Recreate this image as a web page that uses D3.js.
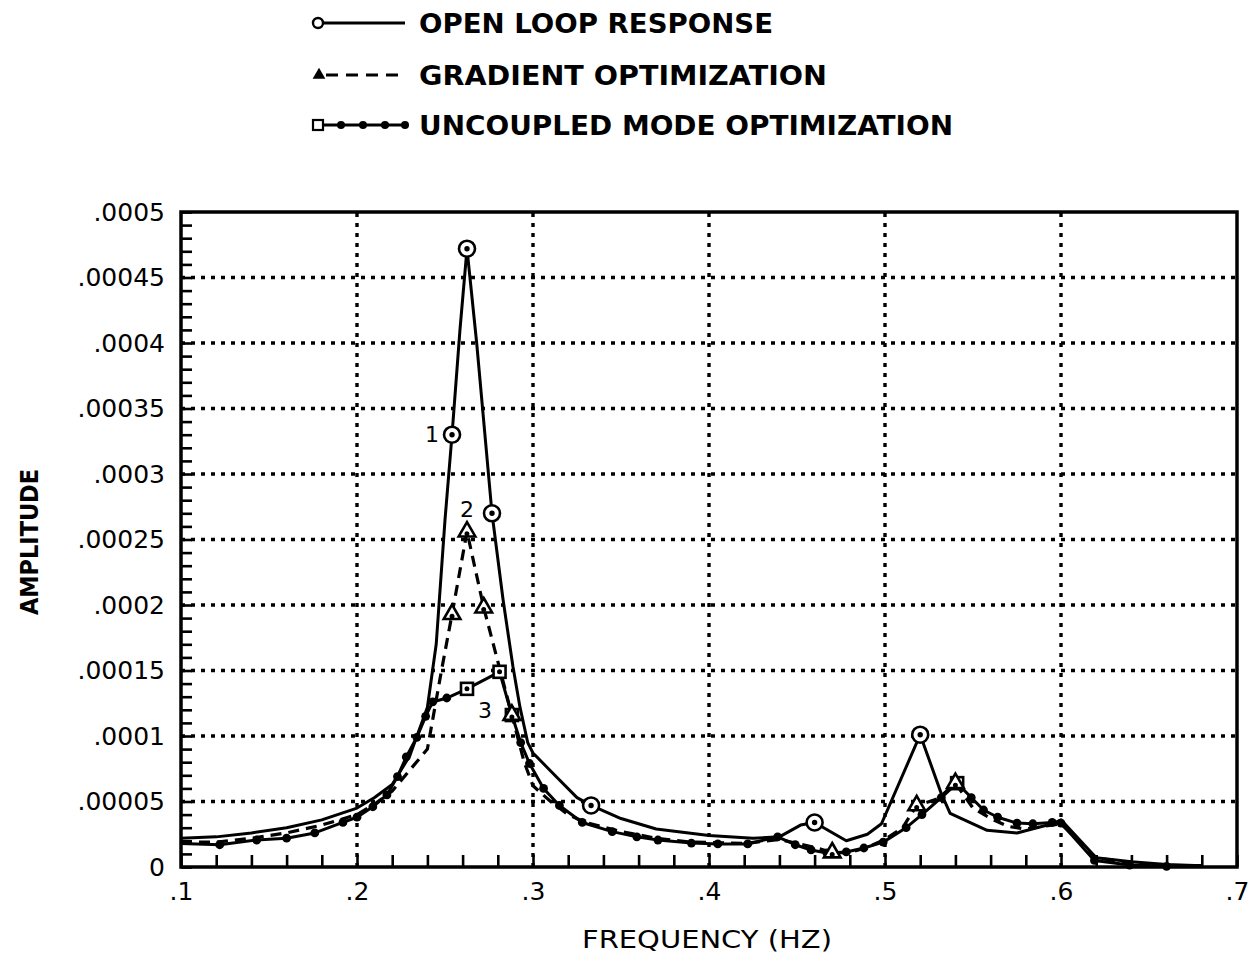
<!DOCTYPE html>
<html><head><meta charset="utf-8">
<script src="https://cdn.jsdelivr.net/npm/d3@7"></script>
<style>body{margin:0;background:#fff}svg{display:block}</style>
</head><body>
<svg id="chart" width="1260" height="953"></svg>
<script>
// Frequency response, amplitudes stored in units of 1e-5
const AMP_UNIT = 1e-5;

const freqOpen = [0.10,0.12,0.14,0.16,0.18,0.20,0.21,0.22,0.23,0.24,0.245,0.25,0.254,0.2585,0.2625,0.268,0.2767,0.283,0.2886,0.2926,0.297,0.30,0.311,0.325,0.333,0.35,0.37,0.40,0.425,0.44,0.452,0.46,0.478,0.49,0.498,0.52,0.532,0.537,0.558,0.575,0.595,0.60,0.62,0.64,0.66,0.68];
const ampOpen  = [2.2,2.3,2.6,3.0,3.6,4.5,5.3,6.3,8.5,12.2,17.0,26.5,33.0,41.0,47.2,40.0,27.0,20.4,15.3,12.2,9.5,8.7,7.2,5.3,4.7,3.7,2.9,2.4,2.2,2.3,3.2,3.4,2.0,2.5,3.3,10.1,5.6,4.1,2.8,2.6,3.3,3.6,0.7,0.4,0.2,0.1];
const openMarks = [0.254,0.2625,0.2767,0.333,0.46,0.52];

const freqGrad = [0.10,0.12,0.14,0.16,0.18,0.20,0.21,0.22,0.23,0.24,0.248,0.254,0.2625,0.272,0.288,0.295,0.30,0.31,0.32,0.33,0.35,0.37,0.39,0.42,0.44,0.45,0.46,0.47,0.48,0.49,0.50,0.51,0.518,0.53,0.54,0.55,0.56,0.57,0.58,0.59,0.60,0.62,0.64,0.66,0.68];
const ampGrad  = [1.9,1.9,2.2,2.6,3.2,4.0,4.8,5.8,7.4,9.0,15.0,19.3,25.6,19.8,11.6,8.0,6.2,5.0,4.0,3.4,2.7,2.2,1.9,1.8,2.1,1.8,1.5,1.1,1.1,1.5,2.1,3.0,4.7,5.2,6.4,4.5,3.7,3.1,2.9,3.1,3.3,0.7,0.3,0.1,0.1];
const gradMarks = [0.254,0.2625,0.272,0.288,0.47,0.518,0.54];

const freqUnc = [0.10,0.122,0.143,0.16,0.176,0.192,0.20,0.209,0.217,0.223,0.228,0.234,0.239,0.243,0.251,0.2625,0.281,0.288,0.293,0.298,0.306,0.315,0.328,0.345,0.359,0.371,0.39,0.405,0.422,0.439,0.449,0.458,0.467,0.478,0.488,0.499,0.512,0.521,0.532,0.541,0.549,0.556,0.564,0.575,0.584,0.595,0.60,0.619,0.639,0.66,0.68];
const ampUnc  = [1.8,1.7,2.06,2.2,2.6,3.4,3.8,4.6,5.5,6.9,8.4,9.9,11.5,12.6,12.9,13.6,14.9,11.6,9.5,7.9,6.0,4.7,3.4,2.7,2.3,2.06,1.83,1.76,1.76,2.3,1.7,1.3,1.07,1.15,1.45,1.9,3.0,4.0,5.3,6.4,5.3,4.35,3.8,3.35,3.3,3.4,3.35,0.5,0.15,0.05,0.05];
const uncMarks = [0.2625,0.281,0.288,0.541];

const xTickValues = [0.1,0.2,0.3,0.4,0.5,0.6,0.7];
const xTickLabels = [".1",".2",".3",".4",".5",".6",".7"];
const yTickValues = [0,0.00005,0.0001,0.00015,0.0002,0.00025,0.0003,0.00035,0.0004,0.00045,0.0005];
const yTickLabels = ["0",".00005",".0001",".00015",".0002",".00025",".0003",".00035",".0004",".00045",".0005"];

const legendLabels = ["OPEN LOOP RESPONSE","GRADIENT OPTIMIZATION","UNCOUPLED MODE OPTIMIZATION"];
const peakLabels = [
  {text:"1", f:0.254, a:33.0, dx:-20, dy:0},
  {text:"2", f:0.2625, a:25.6, dx:0, dy:-22},
  {text:"3", f:0.2625, a:13.6, dx:18, dy:22}
];

const svg = d3.select("#chart");
const L = 181, R = 1237, T = 212, B = 867;
const x = d3.scaleLinear().domain([0.1, 0.7]).range([L, R]);
const y = d3.scaleLinear().domain([0, 0.0005]).range([B, T]);

const series = (fs, as) => fs.map((f, i) => ({f, a: as[i] * AMP_UNIT}));
const open = series(freqOpen, ampOpen);
const grad = series(freqGrad, ampGrad);
const unc = series(freqUnc, ampUnc);
const pick = (s, marks) => marks.map(m => s.find(d => Math.abs(d.f - m) < 1e-6));

// Dotted grid
const grid = svg.append("g").attr("stroke", "#000").attr("stroke-width", 3.4)
  .attr("stroke-dasharray", "4,6");
xTickValues.slice(1, -1).forEach(v => {
  grid.append("line").attr("x1", x(v)).attr("x2", x(v)).attr("y1", B).attr("y2", T);
});
yTickValues.slice(1, -1).forEach(v => {
  grid.append("line").attr("x1", L).attr("x2", R).attr("y1", y(v)).attr("y2", y(v));
});

// Axes with inward minor ticks
const minorY = d3.range(0, 0.0005 + 1e-9, 0.00001);
const minorX = d3.range(0.1, 0.7 + 1e-9, 0.02);
svg.append("g").attr("transform", `translate(${L},0)`)
  .call(d3.axisLeft(y).tickValues(minorY).tickSize(-11).tickFormat(""))
  .call(g => g.select(".domain").remove())
  .selectAll("line").attr("stroke-width", 2.6);
svg.append("g").attr("transform", `translate(0,${B})`)
  .call(d3.axisBottom(x).tickValues(minorX).tickSize(-12).tickFormat(""))
  .call(g => g.select(".domain").remove())
  .selectAll("line").attr("stroke-width", 2.6);

const yAxis = svg.append("g").attr("transform", `translate(${L},0)`)
  .call(d3.axisLeft(y).tickValues(yTickValues).tickSize(0).tickPadding(16)
    .tickFormat((d, i) => yTickLabels[i]));
yAxis.select(".domain").remove();
yAxis.selectAll("text").attr("font-family", "DejaVu Sans, sans-serif")
  .attr("font-size", 25).attr("fill", "#000");

const xAxis = svg.append("g").attr("transform", `translate(0,${B})`)
  .call(d3.axisBottom(x).tickValues(xTickValues).tickSize(0).tickPadding(15)
    .tickFormat((d, i) => xTickLabels[i]));
xAxis.select(".domain").remove();
xAxis.selectAll("text").attr("font-family", "DejaVu Sans, sans-serif")
  .attr("font-size", 25).attr("fill", "#000");

// Plot frame
svg.append("rect").attr("x", L).attr("y", T).attr("width", R - L).attr("height", B - T)
  .attr("fill", "none").attr("stroke", "#000").attr("stroke-width", 3.5);

// Curves
const line = d3.line().x(d => x(d.f)).y(d => y(d.a));
svg.append("path").datum(unc).attr("d", line).attr("fill", "none")
  .attr("stroke", "#000").attr("stroke-width", 3).attr("stroke-linejoin", "round");
svg.append("path").datum(grad).attr("d", line).attr("fill", "none")
  .attr("stroke", "#000").attr("stroke-width", 3.2).attr("stroke-dasharray", "11,7");
svg.append("path").datum(open).attr("d", line).attr("fill", "none")
  .attr("stroke", "#000").attr("stroke-width", 3).attr("stroke-linejoin", "round");

// Dots along the uncoupled-mode curve
svg.append("g").selectAll("circle")
  .data(unc.filter((d, i) => i > 0 && i < unc.length - 1 && !uncMarks.includes(d.f)))
  .join("circle").attr("cx", d => x(d.f)).attr("cy", d => y(d.a)).attr("r", 4.4).attr("fill", "#000");

// Markers
const mk = svg.append("g").attr("stroke", "#000").attr("stroke-width", 2.6).attr("fill", "#fff");
pick(unc, uncMarks).forEach(d => {
  mk.append("rect").attr("x", x(d.f) - 6).attr("y", y(d.a) - 6).attr("width", 12).attr("height", 12);
  mk.append("circle").attr("cx", x(d.f)).attr("cy", y(d.a)).attr("r", 1.2).attr("fill", "#000");
});
const tri = d3.symbol().type(d3.symbolTriangle).size(120);
pick(grad, gradMarks).forEach(d => {
  mk.append("path").attr("d", tri).attr("transform", `translate(${x(d.f)},${y(d.a)})`);
  mk.append("circle").attr("cx", x(d.f)).attr("cy", y(d.a) + 2).attr("r", 1.2).attr("fill", "#000");
});
pick(open, openMarks).forEach(d => {
  mk.append("circle").attr("cx", x(d.f)).attr("cy", y(d.a)).attr("r", 8);
  mk.append("circle").attr("cx", x(d.f)).attr("cy", y(d.a)).attr("r", 1.4).attr("fill", "#000");
});

// Curve numbers
svg.append("g").selectAll("text").data(peakLabels).join("text")
  .attr("x", d => x(d.f) + d.dx).attr("y", d => y(d.a * AMP_UNIT) + d.dy)
  .attr("text-anchor", "middle").attr("dominant-baseline", "central")
  .attr("font-family", "DejaVu Sans, sans-serif").attr("font-size", 22).text(d => d.text);

// Axis titles
svg.append("text").attr("x", 707).attr("y", 948).attr("text-anchor", "middle")
  .attr("font-family", "DejaVu Sans, sans-serif").attr("font-size", 24)
  .attr("textLength", 250).attr("lengthAdjust", "spacingAndGlyphs").text("FREQUENCY (HZ)");
svg.append("text").attr("transform", "translate(38,542) rotate(-90)").attr("text-anchor", "middle")
  .attr("font-family", "DejaVu Sans, sans-serif").attr("font-size", 24).attr("font-weight", "bold")
  .attr("textLength", 146).attr("lengthAdjust", "spacingAndGlyphs").text("AMPLITUDE");

// Legend
const lg = svg.append("g");
const rows = [23, 75, 125];
const textW = [354, 408, 534];
rows.forEach((ry, i) => {
  const ln = lg.append("line").attr("x1", 318).attr("x2", 405).attr("y1", ry).attr("y2", ry)
    .attr("stroke", "#000").attr("stroke-width", 3);
  if (i === 1) ln.attr("stroke-dasharray", "12,8").attr("x1", 326);
  lg.append("text").attr("x", 419).attr("y", ry + 10)
    .attr("font-family", "DejaVu Sans, sans-serif").attr("font-size", 27).attr("font-weight", "bold")
    .attr("textLength", textW[i]).attr("lengthAdjust", "spacingAndGlyphs").text(legendLabels[i]);
});
lg.append("circle").attr("cx", 318).attr("cy", rows[0]).attr("r", 5).attr("fill", "#fff")
  .attr("stroke", "#000").attr("stroke-width", 2.4);
lg.append("path").attr("d", d3.symbol().type(d3.symbolTriangle).size(70))
  .attr("transform", `translate(319,${rows[1]})`).attr("fill", "#000");
[341, 363, 385, 405].forEach(cx => lg.append("circle").attr("cx", cx).attr("cy", rows[2]).attr("r", 4).attr("fill", "#000"));
lg.append("rect").attr("x", 313).attr("y", rows[2] - 5).attr("width", 10).attr("height", 10)
  .attr("fill", "#fff").attr("stroke", "#000").attr("stroke-width", 2.2);
</script>
</body></html>
